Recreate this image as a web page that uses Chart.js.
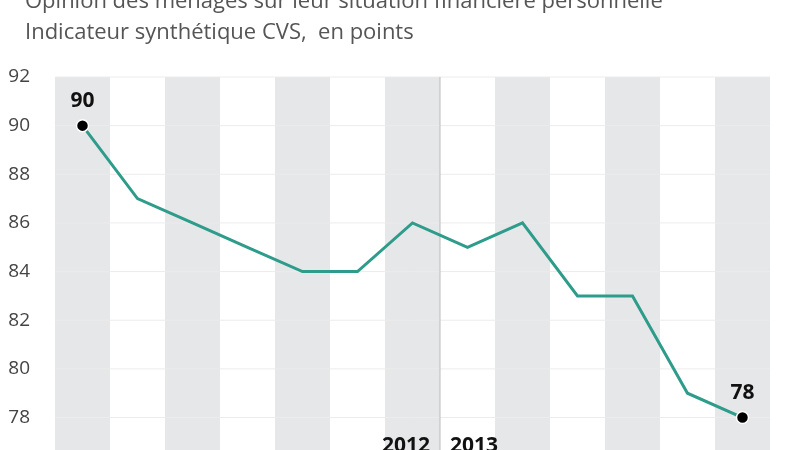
<!DOCTYPE html>
<html><head><meta charset="utf-8">
<script src="https://cdn.jsdelivr.net/npm/chart.js@4"></script>
<style>
body{margin:0;width:800px;height:450px;overflow:hidden;background:#fff;font-family:"Open Sans","Liberation Sans",sans-serif;position:relative}
.t{position:absolute;left:25px;color:#555;font-size:22px;font-family:"Open Sans",sans-serif;white-space:nowrap}
#c{position:absolute;left:0;top:0}
</style></head><body>
<canvas id="c" width="800" height="480"></canvas>
<div class="t" style="top:-16px">Opinion des ménages sur leur situation financière personnelle</div>
<div class="t" style="top:15px">Indicateur synthétique CVS,&nbsp; en points</div>
<script>
const categories=["p1","p2","p3","p4","p5","p6","2012","2013","p9","p10","p11","p12","p13"];
const values=[90,87,86,85,84,84,86,85,86,83,83,79,78];
const yTicks=[78,80,82,84,86,88,90,92];
const yearLabels=[{i:6,text:"2012",align:"right"},{i:7,text:"2013",align:"left"}];
const labelled=[0,12];
const deco={id:"deco",
beforeDatasetsDraw(ch){const {ctx,chartArea:a,scales:{x}}=ch;const w=a.width/categories.length;
ctx.save();ctx.fillStyle="#e6e7e9";
categories.forEach((c,i)=>{if(i%2===0){const cx=x.getPixelForValue(i);ctx.fillRect(cx-w/2,a.top,w,a.bottom-a.top);}});
ctx.strokeStyle="#ececec";ctx.lineWidth=1;
yTicks.forEach(v=>{const y=ch.scales.y.getPixelForValue(v);ctx.beginPath();ctx.moveTo(a.left,y);ctx.lineTo(a.right,y);ctx.stroke();});
const sx=(x.getPixelForValue(6)+x.getPixelForValue(7))/2;
ctx.strokeStyle="#bbb";ctx.beginPath();ctx.moveTo(sx,a.top);ctx.lineTo(sx,a.bottom);ctx.stroke();
ctx.restore();},
afterDatasetsDraw(ch){const {ctx,scales:{x,y}}=ch;ctx.save();ctx.fillStyle="#111";
ctx.font="bold 21px 'Open Sans',sans-serif";ctx.textAlign="center";ctx.textBaseline="bottom";
labelled.forEach(i=>ctx.fillText(String(values[i]),x.getPixelForValue(i),y.getPixelForValue(values[i])-14));
const sx=(x.getPixelForValue(6)+x.getPixelForValue(7))/2;
ctx.textBaseline="alphabetic";
yearLabels.forEach(l=>{ctx.textAlign=l.align;ctx.fillText(l.text,l.align==="right"?sx-10:sx+10,452);});
ctx.restore();}};
new Chart(document.getElementById("c"),{type:"line",
data:{labels:categories,datasets:[{data:values,borderColor:"#2e9c8a",borderWidth:3,tension:0,
pointRadius:values.map((v,i)=>labelled.includes(i)?6:0),pointBackgroundColor:"#000",pointBorderColor:"#fff",pointBorderWidth:1.5}]},
options:{responsive:false,animation:false,layout:{padding:{top:77,right:30,left:0,bottom:0}},
plugins:{legend:{display:false},tooltip:{enabled:false}},
scales:{x:{offset:true,grid:{display:false},border:{display:false},ticks:{display:false}},
y:{min:76.6,max:92,afterBuildTicks(s){s.ticks=yTicks.map(v=>({value:v}));},
afterFit(s){s.width=55;},grid:{display:false},border:{display:false},
ticks:{color:"#444",padding:17,font:{size:19,family:"'Open Sans',sans-serif"}}}}},
plugins:[deco]});
</script></body></html>
